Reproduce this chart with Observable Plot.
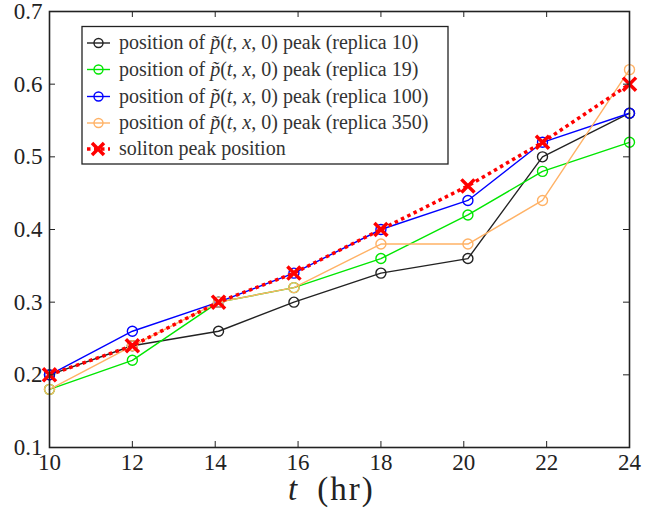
<!DOCTYPE html>
<html><head><meta charset="utf-8">
<script src="https://cdn.jsdelivr.net/npm/d3@7"></script>
<script src="https://cdn.jsdelivr.net/npm/@observablehq/plot@0.6"></script>
<style>
body{margin:0;background:#fff}
#chart{position:relative;width:656px;height:510px}
#chart svg, #chart svg text{font-family:"Liberation Serif","Times New Roman",serif !important}
</style>
</head><body><div id="chart"></div>
<script>
// time (hr) of each sample
const times = [10, 12, 14.08, 15.9, 18, 20.1, 21.9, 24];
// peak positions
const replica10  = [0.20, 0.24, 0.26, 0.30, 0.34, 0.36, 0.50, 0.56];
const replica19  = [0.18, 0.22, 0.30, 0.32, 0.36, 0.42, 0.48, 0.52];
const replica100 = [0.20, 0.26, 0.30, 0.34, 0.40, 0.44, 0.52, 0.56];
const replica350 = [0.18, 0.24, 0.30, 0.32, 0.38, 0.38, 0.44, 0.62];
const soliton    = [0.20, 0.24, 0.30, 0.34, 0.40, 0.46, 0.52, 0.60];
const replicaLabels = ["10", "19", "100", "350"];
const replicaColors = ["#222222", "#00e600", "#0000ff", "#ffb266"];
const solitonLabel = "soliton peak position";
const xTicks = [10, 12, 14, 16, 18, 20, 22, 24];
const yTicks = [0.1, 0.2, 0.3, 0.4, 0.5, 0.6, 0.7];

const W = 656, H = 510, mL = 49, mR = 27, mT = 11, mB = 63;
const xDom = [10, 24], yDom = [0.1, 0.7];
const tickLen = 6;
const kx = tickLen * (xDom[1] - xDom[0]) / (W - mL - mR);
const ky = tickLen * (yDom[1] - yDom[0]) / (H - mT - mB);

const replicas = [replica10, replica19, replica100, replica350];
const rows = [];
replicas.forEach((arr, s) => arr.forEach((v, i) => rows.push({t: times[i], v, s})));
const solRows = soliton.map((v, i) => ({t: times[i], v}));

const marks = [];
replicas.forEach((arr, s) => {
  const d = rows.filter(r => r.s === s);
  marks.push(Plot.line(d, {x: "t", y: "v", stroke: replicaColors[s], strokeWidth: 1.4}));
  marks.push(Plot.dot(d, {x: "t", y: "v", r: 5, stroke: replicaColors[s], strokeWidth: 1.4, fill: "none"}));
});
marks.push(Plot.line(solRows, {x: "t", y: "v", stroke: "#ff0000", strokeWidth: 3.5, strokeDasharray: "3.5,3.5", strokeLinecap: "butt"}));
marks.push(Plot.dot(solRows, {x: "t", y: "v", symbol: "times", r: 6, stroke: "#ff0000", strokeWidth: 3.5}));

// inward ticks on all four sides
marks.push(Plot.ruleX(xTicks, {y1: yDom[0], y2: yDom[0] + ky, stroke: "#222"}));
marks.push(Plot.ruleX(xTicks, {y1: yDom[1] - ky, y2: yDom[1], stroke: "#222"}));
marks.push(Plot.ruleY(yTicks, {x1: xDom[0], x2: xDom[0] + kx, stroke: "#222"}));
marks.push(Plot.ruleY(yTicks, {x1: xDom[1] - kx, x2: xDom[1], stroke: "#222"}));
marks.push(Plot.axisX(xTicks, {tickSize: 0, tickPadding: 6, label: null, fill: "#222"}));
marks.push(Plot.axisY(yTicks, {tickSize: 0, tickPadding: 7, label: null, tickFormat: d3.format(".1f"), fill: "#222"}));
marks.push(Plot.frame({stroke: "#222", strokeWidth: 1.6}));

const plot = Plot.plot({
  width: W, height: H,
  marginLeft: mL, marginRight: mR, marginTop: mT, marginBottom: mB,
  x: {domain: xDom},
  y: {domain: yDom},
  style: {fontFamily: "Liberation Serif, Times New Roman, serif", fontSize: "23px", background: "#fff", color: "#222", overflow: "visible"},
  marks
});
document.getElementById("chart").appendChild(plot);

const svg = d3.select(plot);
// x-axis title
const xt = svg.append("text")
  .attr("x", 288).attr("y", 500).attr("text-anchor", "start")
  .attr("font-size", 33).attr("fill", "#222");
xt.append("tspan").attr("font-style", "italic").text("t");
xt.append("tspan").attr("dx", 20).attr("letter-spacing", 2).text("(hr)");

// legend
const lg = svg.append("g").attr("font-size", 20).attr("fill", "#333").attr("text-anchor", "start");
lg.append("rect").attr("x", 82).attr("y", 26.5).attr("width", 366).attr("height", 137.5)
  .attr("fill", "#fff").attr("stroke", "#222").attr("stroke-width", 1.3);
const rowY = [43, 69.5, 96.5, 123, 149];
replicaLabels.forEach((lab, i) => {
  const y = rowY[i];
  lg.append("line").attr("x1", 87).attr("x2", 110).attr("y1", y).attr("y2", y).attr("stroke", replicaColors[i]).attr("stroke-width", 1.4);
  lg.append("circle").attr("cx", 98.5).attr("cy", y).attr("r", 4.5).attr("fill", "none").attr("stroke", replicaColors[i]).attr("stroke-width", 1.4);
  const t = lg.append("text").attr("x", 119).attr("y", y).attr("dy", "0.32em");
  t.append("tspan").text("position of ");
  t.append("tspan").attr("font-style", "italic").text("p\u0303");
  t.append("tspan").text("(");
  t.append("tspan").attr("font-style", "italic").text("t");
  t.append("tspan").text(", ");
  t.append("tspan").attr("font-style", "italic").text("x");
  t.append("tspan").text(", 0) peak (replica " + lab + ")");
});
{
  const y = rowY[4];
  lg.append("line").attr("x1", 87).attr("x2", 110).attr("y1", y).attr("y2", y).attr("stroke", "#ff0000").attr("stroke-width", 3.5).attr("stroke-dasharray", "3.5,3.5");
  lg.append("path").attr("d", `M${92},${y-6}L${104},${y+6}M${92},${y+6}L${104},${y-6}`).attr("stroke", "#ff0000").attr("stroke-width", 3.5);
  lg.append("text").attr("x", 119).attr("y", y).attr("dy", "0.32em").text(solitonLabel);
}
</script>
</body></html>
